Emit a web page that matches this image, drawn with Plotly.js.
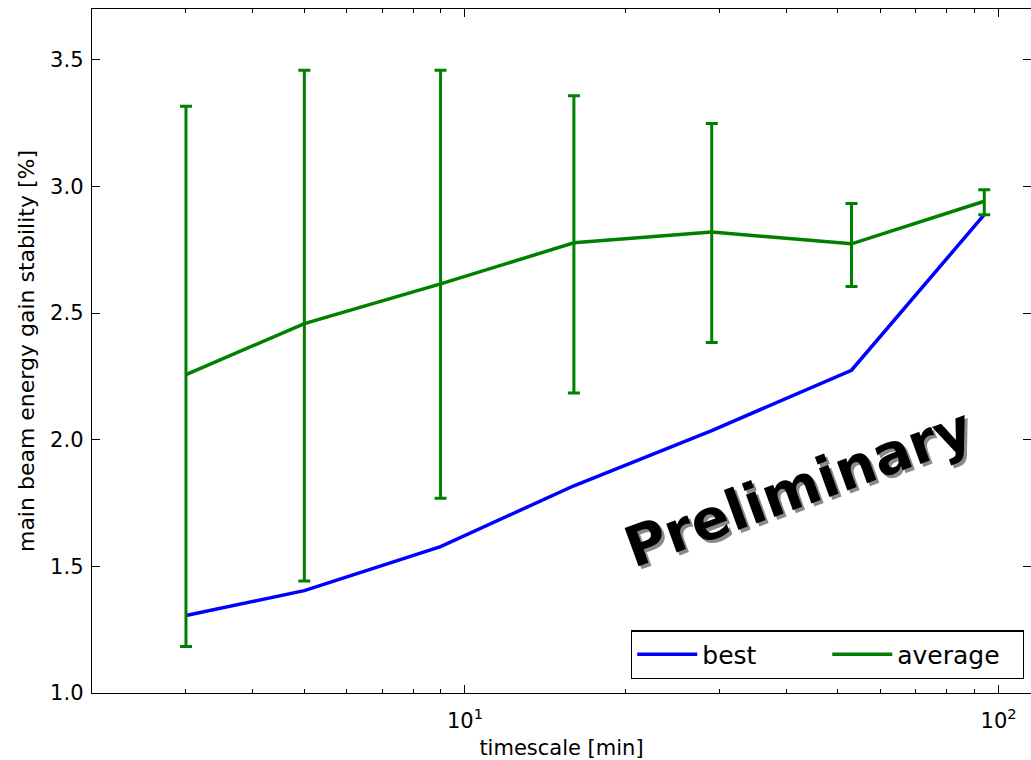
<!DOCTYPE html>
<html>
<head>
<meta charset="utf-8">
<script src="https://cdn.plot.ly/plotly-3.0.1.min.js"></script>
<style>
  html, body { margin: 0; padding: 0; background: #fff; }
  #chart { width: 1031px; height: 760px; }
</style>
</head>
<body>
<div id="chart"></div>
<script>
// ---- data ----
const timescale = [3, 5, 9, 16, 29, 53, 94];
const bestValues = [1.306, 1.404, 1.578, 1.818, 2.036, 2.274, 2.888];
const averageValues = [2.257, 2.458, 2.615, 2.777, 2.820, 2.773, 2.941];
const averageUpper = [3.316, 3.458, 3.458, 3.358, 3.248, 2.932, 2.987];
const averageLower = [1.184, 1.442, 1.769, 2.184, 2.384, 2.605, 2.888];

const xTickVals = [10, 100];
const xTickText = ['10<sup>1</sup>', '10<sup>2</sup>'];
const xMinorVals = [2, 3, 4, 5, 6, 7, 8, 9, 20, 30, 40, 50, 60, 70, 80, 90];
const yTickVals = [1.0, 1.5, 2.0, 2.5, 3.0, 3.5];
const yTickText = ['1.0', '1.5', '2.0', '2.5', '3.0', '3.5'];

const seriesNames = ['best', 'average'];
const xTitle = 'timescale [min]';
const yTitle = 'main beam energy gain stability [%]';
const watermark = 'Preliminary';

// ---- traces ----
const errPlus = averageUpper.map((u, i) => u - averageValues[i]);
const errMinus = averageLower.map((l, i) => averageValues[i] - l);

const traces = [
  {
    x: timescale, y: bestValues, name: seriesNames[0],
    type: 'scatter', mode: 'lines',
    line: { color: '#0000ff', width: 3.5 }
  },
  {
    x: timescale, y: averageValues, name: seriesNames[1],
    type: 'scatter', mode: 'lines',
    line: { color: '#008000', width: 3.5 },
    error_y: {
      type: 'data', symmetric: false,
      array: errPlus, arrayminus: errMinus,
      color: '#008000', thickness: 3, width: 6
    }
  }
];

const font = 'DejaVu Sans, Verdana, sans-serif';

const layout = {
  width: 1031, height: 760,
  margin: { l: 92, r: 0, t: 9, b: 67, pad: 0 },
  paper_bgcolor: '#ffffff', plot_bgcolor: '#ffffff',
  font: { family: font, size: 21, color: '#000' },
  showlegend: true,
  legend: {
    orientation: 'h',
    x: 0.9925, xanchor: 'right',
    y: 0.02, yanchor: 'bottom',
    bgcolor: '#ffffff', bordercolor: '#000', borderwidth: 1.3,
    font: { family: font, size: 25, color: '#000' },
    itemwidth: 60, traceorder: 'normal',
    entrywidth: 120, entrywidthmode: 'pixels'
  },
  xaxis: {
    type: 'log',
    range: [Math.log10(2), Math.log10(115)],
    showgrid: false, zeroline: false,
    showline: true, linecolor: '#000', linewidth: 1.3, mirror: 'ticks',
    ticks: 'inside', ticklen: 8, tickwidth: 1, tickcolor: '#000',
    tickvals: xTickVals, ticktext: xTickText,
    tickfont: { family: font, size: 21, color: '#000' },
    ticklabelstandoff: 8,
    minor: { tickvals: xMinorVals, ticks: 'inside', ticklen: 4, tickwidth: 1, tickcolor: '#000', showgrid: false },
    title: { text: xTitle, font: { family: font, size: 21, color: '#000' }, standoff: 12 },
    automargin: false
  },
  yaxis: {
    range: [1.0, 3.7],
    showgrid: false, zeroline: false,
    showline: true, linecolor: '#000', linewidth: 1.3, mirror: 'ticks',
    ticks: 'inside', ticklen: 8, tickwidth: 1, tickcolor: '#000',
    tickvals: yTickVals, ticktext: yTickText,
    tickfont: { family: font, size: 21, color: '#000' },
    ticklabelstandoff: 3,
    title: { text: yTitle, font: { family: font, size: 22, color: '#000' }, standoff: 9 },
    automargin: false
  },
  annotations: [
    {
      xref: 'paper', yref: 'paper', x: 0.7552, y: 0.2966,
      xanchor: 'center', yanchor: 'middle',
      text: '<b>' + watermark + '</b>', showarrow: false, textangle: -20,
      font: { family: font, size: 56, color: '#8a8a8a' }
    },
    {
      xref: 'paper', yref: 'paper', x: 0.752, y: 0.301,
      xanchor: 'center', yanchor: 'middle',
      text: '<b>' + watermark + '</b>', showarrow: false, textangle: -20,
      font: { family: font, size: 56, color: '#000000' }
    }
  ]
};

Plotly.newPlot('chart', traces, layout, { displayModeBar: false, staticPlot: true });
</script>
</body>
</html>
